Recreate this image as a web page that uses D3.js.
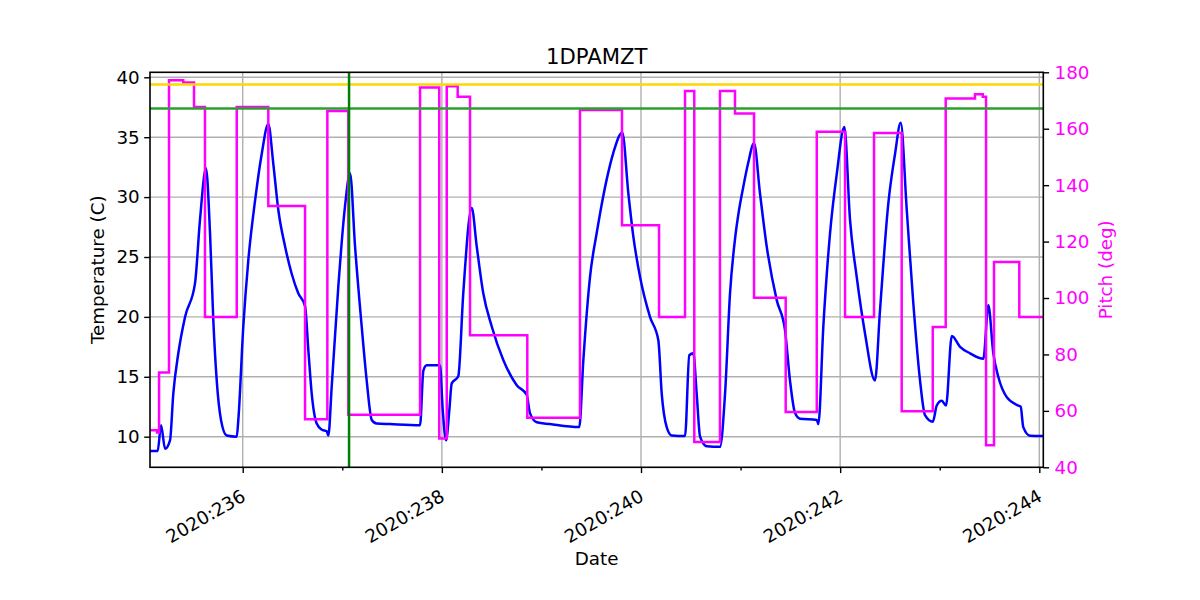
<!DOCTYPE html>
<html>
<head>
<meta charset="utf-8">
<script src="https://cdn.jsdelivr.net/npm/d3@7"></script>
<style>
  html, body { margin: 0; padding: 0; background: #fff; }
  svg { display: block; font-family: "DejaVu Sans", sans-serif; }
</style>
</head>
<body>
<svg id="chart" width="1200" height="600"></svg>
<script>
// ---- Data ----
const title = "1DPAMZT";
const xMajorTicks = [236, 238, 240, 242, 244];
const xMinorTicks = [237, 239, 241, 243];
const tempTicks = [10, 15, 20, 25, 30, 35, 40];
const pitchTicks = [40, 60, 80, 100, 120, 140, 160, 180];

// temperature (C) : [day, value]
const tempSeries = [
  [235.069, 8.81], [235.146, 8.81], [235.180, 10.96], [235.220, 9.0], [235.270, 9.7],
  [235.303, 13.6], [235.353, 16.94], [235.421, 20.0], [235.521, 22.8], [235.571, 28.1],
  [235.631, 32.4], [235.672, 26.95], [235.705, 19.7], [235.739, 14.7], [235.782, 11.4],
  [235.839, 10.1], [235.940, 10.0], [235.956, 11.4], [236.006, 19.2], [236.056, 24.7],
  [236.124, 29.7], [236.191, 33.6], [236.257, 36.1], [236.307, 32.8], [236.358, 28.9],
  [236.425, 25.9], [236.492, 23.6], [236.558, 21.97], [236.626, 20.9], [236.659, 17.25],
  [236.693, 13.6], [236.743, 11.1], [236.793, 10.6], [236.844, 10.45], [236.860, 10.1],
  [236.894, 14.2], [236.960, 22.5], [237.027, 29.2], [237.078, 32.0], [237.128, 25.9],
  [237.195, 19.2], [237.245, 14.7], [237.296, 11.4], [237.346, 11.1], [237.479, 11.05],
  [237.781, 10.96], [237.814, 15.5], [237.848, 15.96], [237.981, 15.96], [238.009, 12.2],
  [238.042, 9.7], [238.075, 12.2], [238.099, 14.45], [238.165, 15.05], [238.215, 21.97],
  [238.300, 29.1], [238.350, 25.9], [238.416, 21.97], [238.501, 19.2], [238.617, 16.4],
  [238.752, 14.3], [238.852, 13.5], [238.885, 11.97], [238.953, 11.2], [239.086, 11.05],
  [239.380, 10.8], [239.421, 16.4], [239.488, 23.35], [239.555, 27.0], [239.588, 28.6],
  [239.656, 31.5], [239.722, 33.7], [239.812, 35.4], [239.873, 30.3], [239.923, 26.7],
  [239.990, 23.35], [240.090, 20.0], [240.174, 18.05], [240.208, 13.6], [240.258, 10.8],
  [240.308, 10.1], [240.442, 10.05], [240.485, 16.8], [240.525, 16.96], [240.559, 13.6],
  [240.593, 10.0], [240.660, 9.2], [240.793, 9.15], [240.844, 13.6], [240.894, 21.97],
  [240.944, 26.5], [240.984, 28.9], [241.027, 30.85], [241.075, 32.8], [241.135, 34.5],
  [241.195, 30.3], [241.262, 25.9], [241.363, 21.4], [241.446, 18.9], [241.496, 14.7],
  [241.547, 11.97], [241.597, 11.5], [241.765, 11.4], [241.781, 11.05], [241.831, 19.2],
  [241.898, 26.95], [241.966, 31.95], [242.042, 35.85], [242.099, 28.1], [242.166, 23.35],
  [242.250, 18.6], [242.350, 14.7], [242.400, 20.55], [242.484, 29.5], [242.551, 33.6],
  [242.608, 36.2], [242.669, 28.9], [242.735, 21.1], [242.802, 14.7], [242.852, 11.8],
  [242.930, 11.25], [242.970, 12.6], [243.020, 13.0], [243.063, 12.6], [243.121, 18.4],
  [243.204, 17.5], [243.304, 16.96], [243.438, 16.5], [243.488, 20.97], [243.538, 16.96],
  [243.588, 15.0], [243.673, 13.3], [243.789, 12.6], [243.813, 12.5], [243.839, 10.8],
  [243.907, 10.08], [244.040, 10.05]
];

// pitch (deg) step changes : [day, value after change]
const pitchSeries = [
  [235.069, 53.1], [235.140, 52.3], [235.160, 73.6], [235.260, 177.2], [235.403, 176.4],
  [235.511, 167.7], [235.621, 93.3], [235.940, 167.7], [236.257, 132.6], [236.626, 57.0],
  [236.850, 166.3], [237.061, 58.6], [237.781, 174.6], [237.974, 50.2], [238.049, 175.1],
  [238.159, 171.3], [238.283, 86.8], [238.858, 57.6], [239.387, 166.6], [239.809, 125.8],
  [240.181, 93.3], [240.442, 173.4], [240.535, 49.0], [240.793, 173.4], [240.944, 165.4],
  [241.135, 100.1], [241.453, 59.6], [241.765, 158.9], [242.049, 93.3], [242.340, 158.5],
  [242.618, 59.9], [242.930, 89.7], [243.060, 170.7], [243.354, 172.2], [243.432, 171.3],
  [243.465, 47.8], [243.545, 112.8], [243.799, 93.3], [244.040, 93.3]
];

const limitHigh = 39.4;   // gold line (C)
const limitPlan = 37.4;   // green line (C)
const markerDay = 237.068; // vertical green line

const xDomain = [235.069, 244.04];
const tempDomain = [7.445, 40.417];
const pitchDomain = [40, 180];

// ---- Layout ----
const L = 150, R = 1043.3, T = 72.3, B = 467.3;
const svg = d3.select("#chart");
const FS = 18.3;

const x = d3.scaleLinear().domain(xDomain).range([L, R]);
const yT = d3.scaleLinear().domain(tempDomain).range([B, T]);
const yP = d3.scaleLinear().domain(pitchDomain).range([B, T]);

// clip
svg.append("defs").append("clipPath").attr("id", "clip")
  .append("rect").attr("x", L).attr("y", T).attr("width", R - L).attr("height", B - T);

// grid
const grid = svg.append("g").attr("stroke", "#b0b0b0").attr("stroke-width", 1.4);
grid.selectAll("line.gx").data(xMajorTicks).join("line")
  .attr("x1", d => x(d)).attr("x2", d => x(d)).attr("y1", T).attr("y2", B);
grid.selectAll("line.gy").data(tempTicks).join("line")
  .attr("x1", L).attr("x2", R).attr("y1", d => yT(d)).attr("y2", d => yT(d));

const plot = svg.append("g").attr("clip-path", "url(#clip)");

// temperature line
plot.append("path").datum(tempSeries)
  .attr("fill", "none").attr("stroke", "#0000ff").attr("stroke-width", 2.5)
  .attr("stroke-linejoin", "round")
  .attr("d", d3.line().x(d => x(d[0])).y(d => yT(d[1])).curve(d3.curveMonotoneX));

// pitch line
plot.append("path").datum(pitchSeries)
  .attr("fill", "none").attr("stroke", "#ff00ff").attr("stroke-width", 2.5)
  .attr("d", d3.line().x(d => x(d[0])).y(d => yP(d[1])).curve(d3.curveStepAfter));

// limit lines
plot.append("line").attr("x1", L).attr("x2", R)
  .attr("y1", yT(limitHigh)).attr("y2", yT(limitHigh))
  .attr("stroke", "#ffd700").attr("stroke-width", 2.5);
plot.append("line").attr("x1", L).attr("x2", R)
  .attr("y1", yT(limitPlan)).attr("y2", yT(limitPlan))
  .attr("stroke", "#2ca02c").attr("stroke-width", 2.5);
plot.append("line").attr("x1", x(markerDay)).attr("x2", x(markerDay))
  .attr("y1", T).attr("y2", B)
  .attr("stroke", "#008000").attr("stroke-width", 2.5);

// axes
function styleAxis(g, color) {
  g.select(".domain").remove();
  g.selectAll(".tick line").attr("stroke", "#000").attr("stroke-width", 1.4);
  g.selectAll(".tick text").attr("fill", color).style("font-size", FS + "px")
    .style("font-family", "'DejaVu Sans', sans-serif");
}

const xAxisG = svg.append("g").attr("transform", `translate(0,${B})`)
  .call(d3.axisBottom(x).tickValues(xMajorTicks).tickSize(5.8).tickFormat(""));
styleAxis(xAxisG, "#000");
const xMinorG = svg.append("g").attr("transform", `translate(0,${B})`)
  .call(d3.axisBottom(x).tickValues(xMinorTicks).tickSize(3.3).tickFormat(""));
styleAxis(xMinorG, "#000");

svg.append("g").selectAll("text").data(xMajorTicks).join("text")
  .attr("transform", d => `translate(${x(d) + 4},${500}) rotate(-30)`)
  .attr("text-anchor", "end")
  .style("font-size", FS + "px")
  .attr("fill", "#000")
  .text(d => "2020:" + d);

const yAxisG = svg.append("g").attr("transform", `translate(${L},0)`)
  .call(d3.axisLeft(yT).tickValues(tempTicks).tickSize(5.8).tickPadding(4.5));
styleAxis(yAxisG, "#000");

const y2AxisG = svg.append("g").attr("transform", `translate(${R},0)`)
  .call(d3.axisRight(yP).tickValues(pitchTicks).tickSize(5.8).tickPadding(5.5));
styleAxis(y2AxisG, "#ff00ff");

// frame
svg.append("rect").attr("x", L).attr("y", T).attr("width", R - L).attr("height", B - T)
  .attr("fill", "none").attr("stroke", "#000").attr("stroke-width", 1.6);

// labels
svg.append("text").attr("x", (L + R) / 2).attr("y", 64).attr("text-anchor", "middle")
  .style("font-size", "21.2px").attr("fill", "#000").text(title);
svg.append("text").attr("x", (L + R) / 2).attr("y", 565).attr("text-anchor", "middle")
  .style("font-size", FS + "px").attr("fill", "#000").text("Date");
svg.append("text").attr("transform", `translate(103.5,${(T + B) / 2}) rotate(-90)`)
  .attr("text-anchor", "middle").style("font-size", FS + "px").attr("fill", "#000")
  .text("Temperature (C)");
svg.append("text").attr("transform", `translate(1111.5,${(T + B) / 2}) rotate(-90)`)
  .attr("text-anchor", "middle").style("font-size", FS + "px").attr("fill", "#ff00ff")
  .text("Pitch (deg)");
</script>
</body>
</html>
